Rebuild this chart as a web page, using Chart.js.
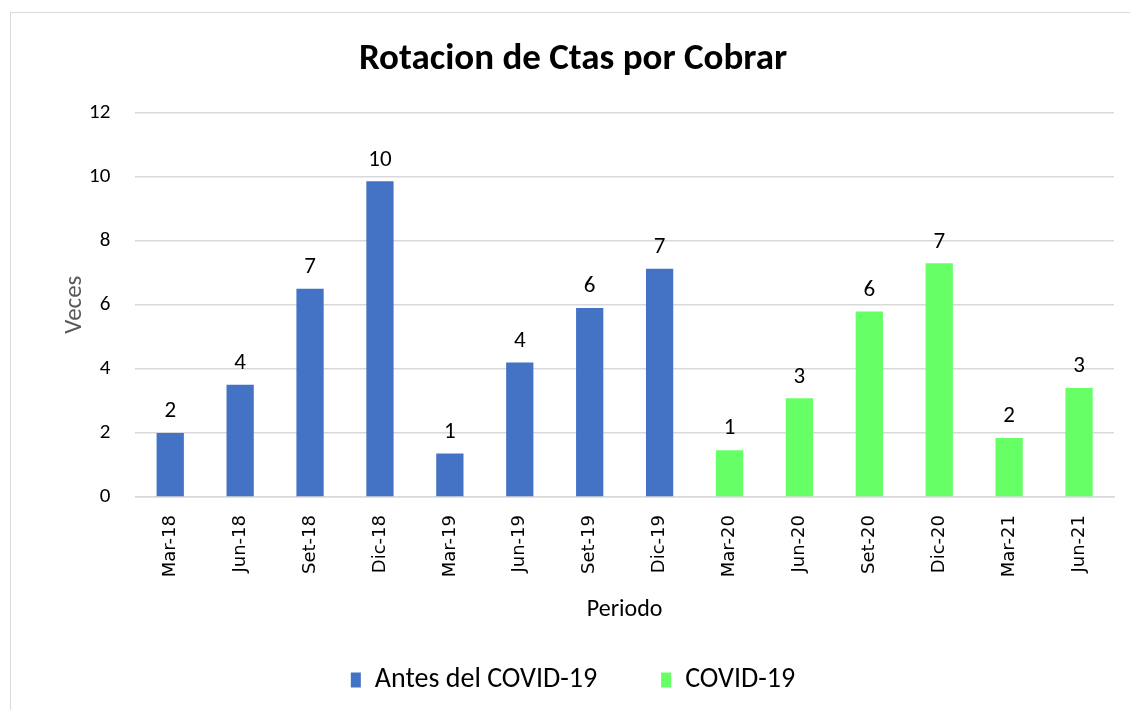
<!DOCTYPE html>
<html>
<head>
<meta charset="utf-8">
<script src="https://cdn.jsdelivr.net/npm/chart.js@4.4.0/dist/chart.umd.min.js"></script>
<style>
  html, body { margin: 0; padding: 0; background: #fff; }
  #box {
    position: absolute; left: 10px; top: 12px;
    width: 1125px; height: 700px;
    border-left: 1px solid #d9d9d9; border-top: 1px solid #d9d9d9;
    box-sizing: border-box;
  }
  #wrap { position: absolute; left: 11px; top: 13px; width: 1119px; height: 697px; }
</style>
</head>
<body>
<div id="box"></div>
<div id="wrap"><canvas id="myChart"></canvas></div>
<script>
// periods on the x axis
const periodos = ['Mar-18', 'Jun-18', 'Set-18', 'Dic-18', 'Mar-19', 'Jun-19', 'Set-19', 'Dic-19',
                  'Mar-20', 'Jun-20', 'Set-20', 'Dic-20', 'Mar-21', 'Jun-21'];
// rotation values (times)
const antesCovid = [2.0, 3.5, 6.5, 9.85, 1.36, 4.2, 5.9, 7.12, null, null, null, null, null, null];
const duranteCovid = [null, null, null, null, null, null, null, null, 1.46, 3.08, 5.79, 7.29, 1.84, 3.4];
const yTicks = [0, 2, 4, 6, 8, 10, 12];

const fontFam = "Calibri, Carlito, Lato, 'Open Sans', sans-serif";
const xTickFam = "'DejaVu Sans', sans-serif";

// draws the rounded value above each bar
const barLabels = {
  id: 'barLabels',
  afterDatasetsDraw(chart) {
    const ctx = chart.ctx;
    ctx.save();
    ctx.font = "23px " + fontFam;
    ctx.fillStyle = '#000';
    ctx.textAlign = 'center';
    ctx.textBaseline = 'bottom';
    chart.data.datasets.forEach((ds, i) => {
      const meta = chart.getDatasetMeta(i);
      meta.data.forEach((bar, j) => {
        const v = ds.data[j];
        if (v === null) return;
        ctx.fillText(Math.round(v), bar.x, bar.y - 10);
      });
    });
    ctx.restore();
  }
};

const data = {
  labels: periodos,
  datasets: [
    {
      label: 'Antes del COVID-19',
      data: antesCovid,
      backgroundColor: '#4472c4',
      barPercentage: 0.39,
      categoryPercentage: 1.0
    },
    {
      label: 'COVID-19',
      data: duranteCovid,
      backgroundColor: '#66ff66',
      barPercentage: 0.39,
      categoryPercentage: 1.0
    }
  ]
};

const config = {
  type: 'bar',
  data: data,
  plugins: [barLabels],
  options: {
    responsive: true,
    maintainAspectRatio: false,
    animation: false,
    layout: { padding: { left: 21, right: 16, top: 8, bottom: 6 } },
    plugins: {
      title: {
        display: true,
        text: 'Rotacion de Ctas por Cobrar',
        color: '#000',
        font: { family: fontFam, size: 37, weight: 'bold' },
        padding: { top: 17, bottom: 30 }
      },
      legend: {
        position: 'bottom',
        labels: {
          color: '#000',
          font: { family: fontFam, size: 28 },
          boxWidth: 10,
          boxHeight: 15,
          padding: 64
        }
      },
      tooltip: { enabled: false }
    },
    scales: {
      x: {
        stacked: true,
        grid: { display: false },
        border: { color: '#d9d9d9', width: 1.5 },
        ticks: {
          color: '#000',
          font: { family: xTickFam, size: 18 },
          maxRotation: 90,
          minRotation: 90,
          padding: 10
        },
        title: {
          display: true,
          text: 'Periodo',
          color: '#000',
          font: { family: fontFam, size: 24 },
          padding: { top: 8, bottom: -22 }
        }
      },
      y: {
        stacked: true,
        min: 0,
        max: 12,
        afterBuildTicks(axis) {
          axis.ticks = yTicks.map(v => ({ value: v }));
        },
        grid: { color: '#d9d9d9', lineWidth: 1.5, drawTicks: false },
        border: { display: false },
        ticks: {
          color: '#000',
          font: { family: fontFam, size: 21 },
          padding: 25
        },
        title: {
          display: true,
          text: 'Veces',
          color: '#595959',
          font: { family: fontFam, size: 25 },
          padding: { top: 28, bottom: -26 }
        }
      }
    }
  }
};

const myChart = new Chart(document.getElementById('myChart'), config);
</script>
</body>
</html>
